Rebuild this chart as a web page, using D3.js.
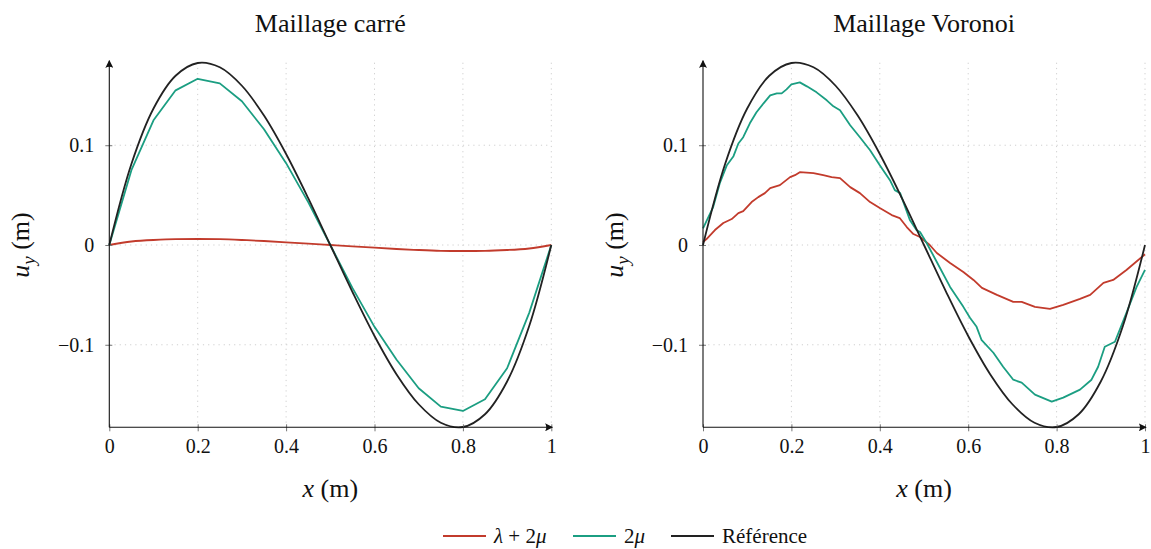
<!DOCTYPE html>
<html>
<head>
<meta charset="utf-8">
<script src="https://cdn.jsdelivr.net/npm/d3@7"></script>
<style>
  body { margin: 0; background: #fff; }
  text { font-family: "Liberation Serif", "DejaVu Serif", serif; fill: #111; }
  .grid line { stroke: #cfcfcf; stroke-width: 1; stroke-dasharray: 1.2 4; }
</style>
</head>
<body>
<div id="chart"></div>
<script>
// data

var xTicks = [0, 0.2, 0.4, 0.6, 0.8, 1];
var yTicks = [-0.1, 0, 0.1];
var yTickLabels = ['\u22120.1', '0', '0.1'];
var titles = ['Maillage carré', 'Maillage Voronoi'];

// reference solution, shared by both panels
var refX = [0, 0.05, 0.1, 0.15, 0.2, 0.25, 0.3, 0.35, 0.4, 0.45, 0.5,
            0.55, 0.6, 0.65, 0.7, 0.75, 0.8, 0.85, 0.9, 0.95, 1];
var refY = [0, 0.0812, 0.1368, 0.1696, 0.1824, 0.1781, 0.1596, 0.1297, 0.0912, 0.0470, 0,
            -0.0470, -0.0912, -0.1297, -0.1596, -0.1781, -0.1824, -0.1696, -0.1368, -0.0812, 0];

// square mesh
var sqX = refX;
var sqMu = [0, 0.075, 0.125, 0.155, 0.1666, 0.162, 0.144, 0.116, 0.082, 0.043, 0,
            -0.043, -0.082, -0.115, -0.1436, -0.162, -0.1663, -0.1546, -0.1235, -0.068, 0];
var sqLambda = [0, 0.0035, 0.005, 0.0058, 0.006, 0.0058, 0.005, 0.004, 0.0027, 0.0013, 0,
                -0.0013, -0.0027, -0.004, -0.005, -0.0058, -0.006, -0.0058, -0.005, -0.0035, 0];

// voronoi mesh
var voMuX = [0, 0.023, 0.038, 0.054, 0.069, 0.08, 0.091, 0.106, 0.121, 0.137, 0.152, 0.167,
             0.178, 0.189, 0.2, 0.219, 0.235, 0.257, 0.28, 0.295, 0.31, 0.333, 0.355, 0.378,
             0.4, 0.423, 0.434, 0.446, 0.468, 0.483, 0.491, 0.506, 0.529, 0.559, 0.589, 0.604,
             0.619, 0.63, 0.657, 0.679, 0.702, 0.721, 0.751, 0.789, 0.815, 0.853, 0.879, 0.894,
             0.909, 0.932, 0.958, 0.981, 1];
var voMu = [0.0167, 0.038, 0.062, 0.08, 0.089, 0.1017, 0.108, 0.122, 0.133, 0.142, 0.15, 0.152,
            0.152, 0.156, 0.161, 0.163, 0.159, 0.153, 0.145, 0.139, 0.135, 0.12, 0.108, 0.095,
            0.08, 0.065, 0.055, 0.052, 0.025, 0.015, 0.013, 0.002, -0.017, -0.042, -0.062, -0.073,
            -0.082, -0.095, -0.108, -0.122, -0.135, -0.138, -0.15, -0.157, -0.153, -0.145, -0.135, -0.122,
            -0.102, -0.097, -0.068, -0.042, -0.025];

var voLambdaX = [0, 0.008, 0.027, 0.046, 0.065, 0.08, 0.091, 0.11, 0.125, 0.14, 0.152, 0.174,
                 0.197, 0.208, 0.219, 0.25, 0.272, 0.291, 0.31, 0.333, 0.355, 0.378, 0.4, 0.427,
                 0.445, 0.461, 0.476, 0.491, 0.513, 0.529, 0.559, 0.589, 0.612, 0.631, 0.665, 0.702,
                 0.721, 0.751, 0.785, 0.815, 0.853, 0.876, 0.906, 0.928, 0.958, 1];
var voLambda = [0.003, 0.006, 0.015, 0.022, 0.026, 0.032, 0.034, 0.043, 0.048, 0.052, 0.057, 0.06,
                0.068, 0.07, 0.073, 0.072, 0.07, 0.068, 0.067, 0.058, 0.052, 0.043, 0.037, 0.03,
                0.027, 0.018, 0.011, 0.008, 0, -0.008, -0.018, -0.027, -0.035, -0.043, -0.05, -0.057,
                -0.057, -0.062, -0.064, -0.06, -0.054, -0.05, -0.038, -0.035, -0.025, -0.0093];

var colLambda = '#c23b2c';
var colMu = '#1b9e82';
var colRef = '#222222';

var svg = d3.select('#chart').append('svg')
  .attr('width', 1151)
  .attr('height', 549);

var defs = svg.append('defs');
defs.append('marker')
  .attr('id', 'arrow')
  .attr('viewBox', '0 0 10 10')
  .attr('refX', 9).attr('refY', 5)
  .attr('markerWidth', 8).attr('markerHeight', 8)
  .attr('markerUnits', 'userSpaceOnUse')
  .attr('orient', 'auto')
  .append('path')
  .attr('d', 'M0,0 Q3,5 0,10 L10,5 Z')
  .attr('fill', '#111');

var y = d3.scaleLinear().domain([-0.1827, 0.1827]).range([427.3, 62.7]);

function zip(xs, ys) {
  return xs.map(function(d, i) { return [d, ys[i]]; });
}

var panels = [
  { left: 109.3, title: titles[0], series: [
      { pts: zip(sqX, sqLambda), color: colLambda, curve: d3.curveNatural },
      { pts: zip(sqX, sqMu), color: colMu, curve: d3.curveLinear },
      { pts: zip(refX, refY), color: colRef, curve: d3.curveCatmullRom }
  ]},
  { left: 703, title: titles[1], series: [
      { pts: zip(voLambdaX, voLambda), color: colLambda, curve: d3.curveLinear },
      { pts: zip(voMuX, voMu), color: colMu, curve: d3.curveLinear },
      { pts: zip(refX, refY), color: colRef, curve: d3.curveCatmullRom }
  ]}
];

panels.forEach(function(p) {
  var x = d3.scaleLinear().domain([0, 1]).range([p.left, p.left + 442]);
  var g = svg.append('g');

  // grid
  var grid = g.append('g').attr('class', 'grid');
  grid.selectAll('line.v').data(xTicks.slice(1)).enter().append('line')
    .attr('x1', function(d) { return x(d); }).attr('x2', function(d) { return x(d); })
    .attr('y1', y.range()[1]).attr('y2', y.range()[0]);
  grid.selectAll('line.h').data(yTicks).enter().append('line')
    .attr('x1', x(0)).attr('x2', x(1))
    .attr('y1', function(d) { return y(d); }).attr('y2', function(d) { return y(d); });

  // curves
  p.series.forEach(function(s) {
    var line = d3.line()
      .x(function(d) { return x(d[0]); })
      .y(function(d) { return y(d[1]); })
      .curve(s.curve);
    g.append('path')
      .attr('d', line(s.pts))
      .attr('fill', 'none')
      .attr('stroke', s.color)
      .attr('stroke-width', 1.8)
      .attr('stroke-linejoin', 'round');
  });

  // axes with ticks
  var xAxis = d3.axisBottom(x).tickValues(xTicks)
    .tickFormat(function(d) { return d3.format('')(d); })
    .tickSizeInner(3).tickSizeOuter(0).tickPadding(9);
  var gx = g.append('g').attr('transform', 'translate(0,' + y.range()[0] + ')').call(xAxis);
  gx.select('.domain').remove();
  gx.selectAll('.tick line').attr('y1', -3).attr('y2', 4).attr('stroke', '#777');
  gx.selectAll('.tick text').attr('font-size', 20).attr('fill', '#111');

  var yAxis = d3.axisLeft(y).tickValues(yTicks)
    .tickFormat(function(d, i) { return yTickLabels[i]; })
    .tickSizeInner(3).tickSizeOuter(0).tickPadding(12);
  var gy = g.append('g').attr('transform', 'translate(' + x(0) + ',0)').call(yAxis);
  gy.select('.domain').remove();
  gy.selectAll('.tick line').attr('x1', -4).attr('x2', 3).attr('stroke', '#777');
  gy.selectAll('.tick text').attr('font-size', 20).attr('fill', '#111');

  g.append('line')
    .attr('x1', x(0)).attr('x2', x(1) + 1)
    .attr('y1', y.range()[0]).attr('y2', y.range()[0])
    .attr('stroke', '#111').attr('stroke-width', 1.1)
    .attr('marker-end', 'url(#arrow)');
  g.append('line')
    .attr('x1', x(0)).attr('x2', x(0))
    .attr('y1', y.range()[0]).attr('y2', y.range()[1] - 2)
    .attr('stroke', '#111').attr('stroke-width', 1.1)
    .attr('marker-end', 'url(#arrow)');

  // title and labels
  var cx = (x(0) + x(1)) / 2;
  g.append('text').attr('x', cx).attr('y', 32)
    .attr('text-anchor', 'middle').attr('font-size', 26).text(p.title);

  var xl = g.append('text').attr('x', cx).attr('y', 497)
    .attr('text-anchor', 'middle').attr('font-size', 26);
  xl.append('tspan').attr('font-style', 'italic').text('x');
  xl.append('tspan').text(' (m)');

  var yl = g.append('text')
    .attr('transform', 'translate(' + (x(0) - 80) + ',' + y(0) + ') rotate(-90)')
    .attr('text-anchor', 'middle').attr('font-size', 26);
  yl.append('tspan').attr('font-style', 'italic').text('u');
  yl.append('tspan').attr('font-style', 'italic').attr('font-size', 19).attr('dy', 6).text('y');
  yl.append('tspan').attr('dy', -6).text(' (m)');
});

// legend
var legend = [
  { label: ['\u03bb', ' + 2', '\u03bc'], color: colLambda, x: 443 },
  { label: ['', '2', '\u03bc'], color: colMu, x: 573 },
  { label: ['', 'Référence', ''], color: colRef, x: 671 }
];
var lg = svg.append('g');
legend.forEach(function(d) {
  lg.append('line')
    .attr('x1', d.x).attr('x2', d.x + 43)
    .attr('y1', 536).attr('y2', 536)
    .attr('stroke', d.color).attr('stroke-width', 1.8);
  var t = lg.append('text').attr('x', d.x + 51).attr('y', 543).attr('font-size', 21);
  t.append('tspan').attr('font-style', 'italic').text(d.label[0]);
  t.append('tspan').text(d.label[1]);
  t.append('tspan').attr('font-style', 'italic').text(d.label[2]);
});
</script>
</body>
</html>
